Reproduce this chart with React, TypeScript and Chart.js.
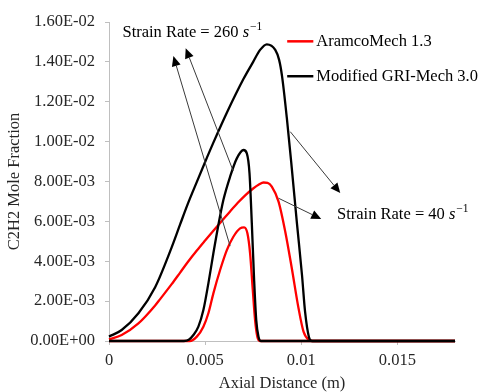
import React, { useEffect, useRef } from "react";
import { Chart, registerables } from "chart.js";
Chart.register(...registerables);

// ---- Data (x: axial distance in m, y: C2H2 mole fraction) ----
const gri40X = [0, 0.00066, 0.00153, 0.0024, 0.00326, 0.0037, 0.00413, 0.00457, 0.005, 0.00543, 0.00613, 0.007, 0.0075, 0.00786, 0.00821, 0.00865, 0.00885, 0.009, 0.00925, 0.00951, 0.00977, 0.01004, 0.0102, 0.0104, 0.01055, 0.018];
const gri40Y = [0.00022, 0.00055, 0.00139, 0.0027, 0.0047, 0.00585, 0.00695, 0.00798, 0.00898, 0.00995, 0.01145, 0.01315, 0.014, 0.0146, 0.01488, 0.0146, 0.0141, 0.0133, 0.0112, 0.00866, 0.00598, 0.00331, 0.00147, 0.0002, 0, 0];

const aramco40X = [0, 0.00066, 0.00153, 0.0024, 0.00266, 0.00326, 0.0037, 0.00413, 0.00457, 0.005, 0.00543, 0.00587, 0.0063, 0.0067, 0.0071, 0.0075, 0.0078, 0.00804, 0.00825, 0.00847, 0.00882, 0.00917, 0.00951, 0.00986, 0.01012, 0.0104, 0.0106, 0.018];
const aramco40Y = [0.00008, 0.0003, 0.00088, 0.00178, 0.0021, 0.00285, 0.00343, 0.004, 0.00454, 0.00504, 0.00553, 0.00602, 0.0065, 0.00693, 0.00732, 0.00765, 0.00785, 0.00795, 0.00793, 0.00774, 0.00699, 0.00548, 0.00365, 0.00164, 0.00047, 0.00005, 0, 0];

const gri260X = [0, 0.0039, 0.00415, 0.00439, 0.00465, 0.00491, 0.00517, 0.00543, 0.00569, 0.00595, 0.0063, 0.00665, 0.007, 0.00717, 0.00731, 0.00743, 0.00755, 0.00766, 0.00778, 0.0079, 0.018];
const gri260Y = [0, 0, 0.00006, 0.0003, 0.00072, 0.00155, 0.00289, 0.0044, 0.00582, 0.00707, 0.00824, 0.00916, 0.00958, 0.00941, 0.00841, 0.0059, 0.00306, 0.00105, 0.0002, 0, 0];

const aramco260X = [0, 0.0042, 0.00457, 0.00491, 0.00517, 0.00543, 0.00578, 0.00613, 0.00647, 0.00682, 0.00703, 0.0072, 0.00734, 0.00748, 0.0076, 0.00772, 0.00785, 0.018];
const aramco260Y = [0, 0, 0.00022, 0.00072, 0.00139, 0.00239, 0.00356, 0.00456, 0.00523, 0.00565, 0.0057, 0.0054, 0.0044, 0.00256, 0.00105, 0.0002, 0, 0];

const xTickValues = [0, 0.005, 0.01, 0.015];
const xTickLabels = ["0", "0.005", "0.01", "0.015"];
const yTickValues = [0, 0.002, 0.004, 0.006, 0.008, 0.01, 0.012, 0.014, 0.016];
const yTickLabels = ["0.00E+00", "2.00E-03", "4.00E-03", "6.00E-03", "8.00E-03", "1.00E-02", "1.20E-02", "1.40E-02", "1.60E-02"];

const seriesNames = ["Modified GRI-Mech 3.0", "AramcoMech 1.3"];
const xTitle = "Axial Distance (m)";
const yTitle = "C2H2 Mole Fraction";

// annotation anchors in data units
const label260 = { text: "Strain Rate = 260 ", x: 0.0007, y: 0.01546 };
const label40 = { text: "Strain Rate = 40 ", x: 0.01186, y: 0.00632 };
const arrows = [
  { fx: 0.0063, fy: 0.00476, tx: 0.00335, ty: 0.01429 },
  { fx: 0.00646, fy: 0.00853, tx: 0.00399, ty: 0.01468 },
  { fx: 0.00943, fy: 0.0105, tx: 0.01203, ty: 0.00742 },
  { fx: 0.00882, fy: 0.00716, tx: 0.01104, ty: 0.00612 },
];
const legendPos = { x1: 0.00927, x2: 0.01063, tx: 0.01078, y: [0.01503, 0.01328] };

const FONT = "'Liberation Serif', 'Times New Roman', serif";
const FS = 16.5;
const TXT = "#262626";

const pairs = (xs: number[], ys: number[]) => xs.map((x, i) => ({ x, y: ys[i] }));

const annotPlugin = {
  id: "annot",
  afterDatasetsDraw(chart: any) {
    const { ctx, scales } = chart;
    const xs = scales.x, ys = scales.y;
    const px = (v: number) => xs.getPixelForValue(v);
    const py = (v: number) => ys.getPixelForValue(v);
    ctx.save();
    for (const a of arrows) {
      const x0 = px(a.fx), y0 = py(a.fy), x1 = px(a.tx), y1 = py(a.ty);
      const dx = x1 - x0, dy = y1 - y0;
      const len = Math.hypot(dx, dy);
      const ux = dx / len, uy = dy / len;
      const hl = 10, hw = 4.5;
      const bx = x1 - ux * hl, by = y1 - uy * hl;
      ctx.strokeStyle = "#3a3a3a";
      ctx.lineWidth = 1;
      ctx.beginPath();
      ctx.moveTo(x0, y0);
      ctx.lineTo(bx, by);
      ctx.stroke();
      ctx.fillStyle = "#000";
      ctx.beginPath();
      ctx.moveTo(x1, y1);
      ctx.lineTo(bx - uy * hw, by + ux * hw);
      ctx.lineTo(bx + uy * hw, by - ux * hw);
      ctx.closePath();
      ctx.fill();
    }
    ctx.textBaseline = "middle";
    ctx.textAlign = "left";
    for (const l of [label260, label40]) {
      let x = px(l.x);
      const y = py(l.y);
      ctx.fillStyle = "#000";
      ctx.font = `${FS}px ${FONT}`;
      ctx.fillText(l.text, x, y);
      x += ctx.measureText(l.text).width;
      ctx.font = `italic ${FS}px ${FONT}`;
      ctx.fillText("s", x, y);
      x += ctx.measureText("s").width + 1;
      ctx.font = `11.5px ${FONT}`;
      ctx.fillText("\u22121", x, y - 6);
    }
    const colors = ["#000000", "#ff0000"];
    const order = [1, 0];
    order.forEach((si, row) => {
      const y = py(legendPos.y[row]);
      ctx.strokeStyle = colors[si];
      ctx.lineWidth = 2.5;
      ctx.beginPath();
      ctx.moveTo(px(legendPos.x1), y);
      ctx.lineTo(px(legendPos.x2), y);
      ctx.stroke();
      ctx.fillStyle = "#000";
      ctx.font = `${FS}px ${FONT}`;
      ctx.fillText(seriesNames[si], px(legendPos.tx), y);
    });
    ctx.restore();
  },
};

export default function App() {
  const ref = useRef<HTMLCanvasElement>(null);
  useEffect(() => {
    const common = {
      showLine: true,
      pointRadius: 0,
      borderWidth: 2.3,
      cubicInterpolationMode: "monotone",
      clip: false,
      fill: false,
    };
    const chart = new Chart(ref.current as HTMLCanvasElement, {
      type: "scatter",
      data: {
        datasets: [
          { ...common, label: seriesNames[0], data: pairs(gri40X, gri40Y), borderColor: "#000000" },
          { ...common, label: seriesNames[0], data: pairs(gri260X, gri260Y), borderColor: "#000000" },
          { ...common, label: seriesNames[1], data: pairs(aramco40X, aramco40Y), borderColor: "#ff0000" },
          { ...common, label: seriesNames[1], data: pairs(aramco260X, aramco260Y), borderColor: "#ff0000" },
        ] as any,
      },
      options: {
        responsive: false,
        animation: false,
        layout: { padding: { top: 22, right: 26, left: 0, bottom: 0 } },
        plugins: { legend: { display: false }, tooltip: { enabled: false } },
        scales: {
          x: {
            type: "linear",
            min: 0,
            max: 0.018,
            afterBuildTicks: (s: any) => {
              s.ticks = xTickValues.map((v) => ({ value: v }));
            },
            afterFit: (s: any) => {
              s.height = 51;
            },
            ticks: {
              callback: (_v: any, i: number) => xTickLabels[i],
              font: { family: FONT, size: FS },
              color: TXT,
              padding: 6,
              maxRotation: 0,
              autoSkip: false,
            },
            grid: { drawOnChartArea: false, drawTicks: true, tickLength: 4, color: "#bfbfbf" },
            border: { color: "#bfbfbf", width: 1 },
            title: { display: true, text: xTitle, font: { family: FONT, size: FS, lineHeight: 1.05 }, color: TXT, padding: 0 },
          },
          y: {
            type: "linear",
            min: 0,
            max: 0.016,
            afterBuildTicks: (s: any) => {
              s.ticks = yTickValues.map((v) => ({ value: v }));
            },
            afterFit: (s: any) => {
              s.width = 109;
            },
            ticks: {
              callback: (_v: any, i: number) => yTickLabels[i],
              font: { family: FONT, size: FS },
              color: TXT,
              padding: 10,
              autoSkip: false,
            },
            grid: { drawOnChartArea: false, drawTicks: true, tickLength: 4, color: "#bfbfbf" },
            border: { color: "#bfbfbf", width: 1 },
            title: { display: true, text: yTitle, font: { family: FONT, size: FS }, color: TXT, padding: { top: 5, bottom: 0 } },
          },
        },
      } as any,
      plugins: [annotPlugin],
    });
    return () => chart.destroy();
  }, []);
  return (
    <div style={{ position: "absolute", left: 0, top: 0, width: 481, height: 392, background: "#fff" }}>
      <canvas ref={ref} width={481} height={392} style={{ display: "block" }} />
    </div>
  );
}
